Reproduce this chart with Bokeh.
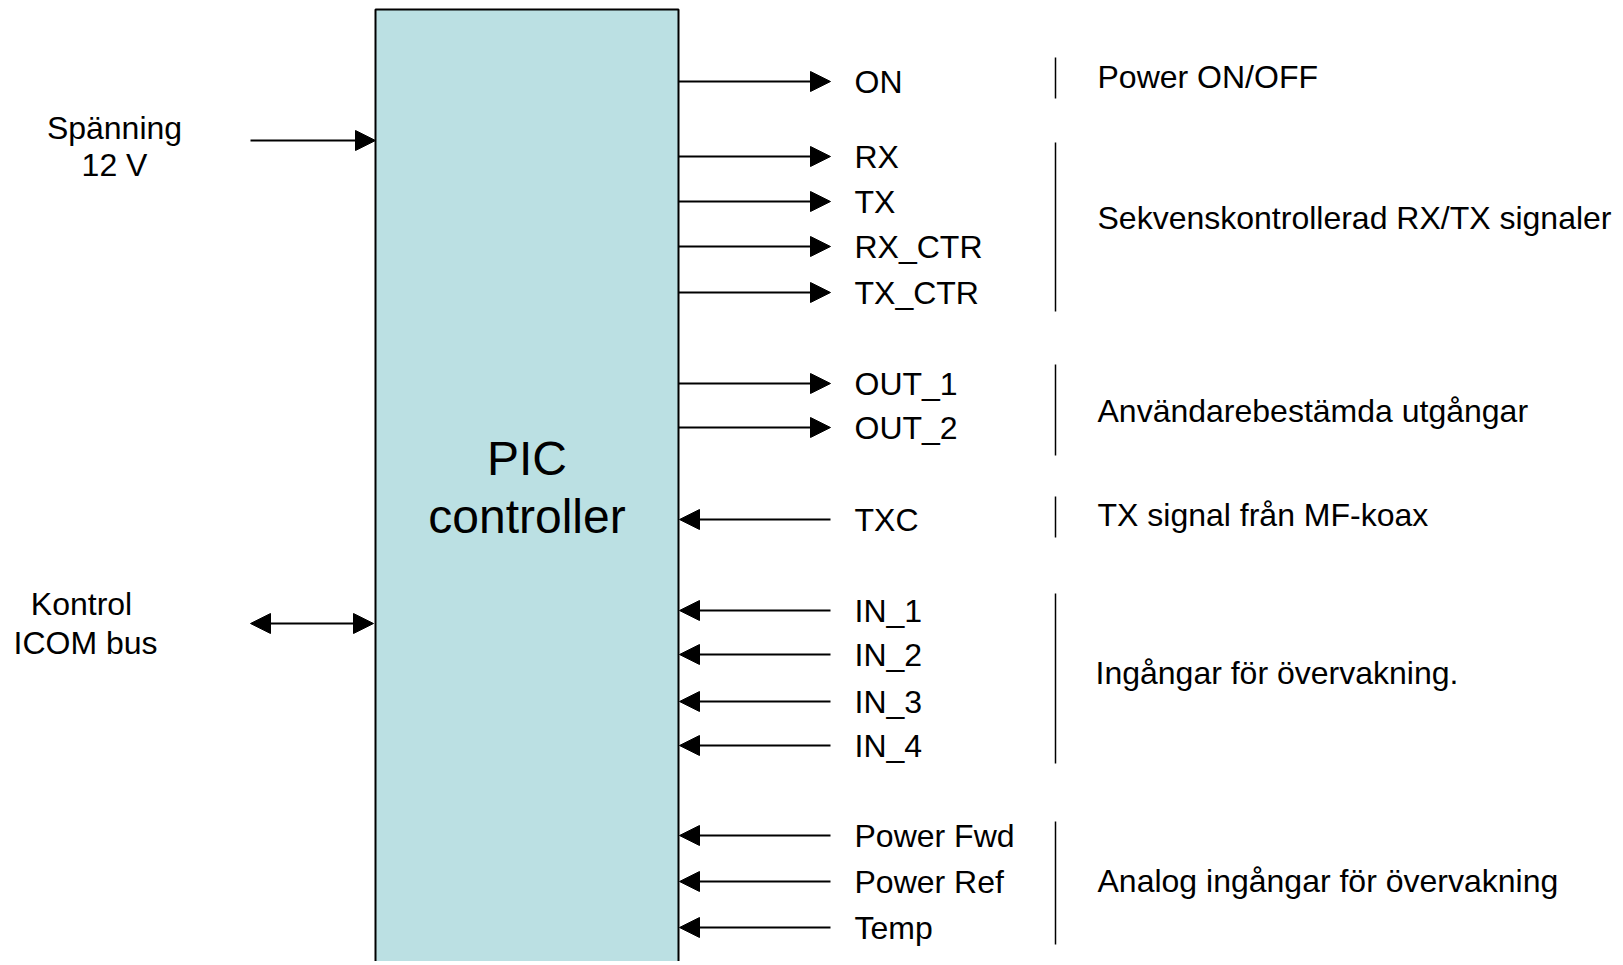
from bokeh.plotting import figure
from bokeh.models import Range1d, Arrow, NormalHead, ColumnDataSource
from bokeh.core.properties import value
from bokeh.embed import file_html
from bokeh.resources import INLINE

# ---- diagram content ----
block_lines = ["PIC", "controller"]

left_labels = [["Spänning", "12 V"], ["Kontrol", "ICOM bus"]]
left_row_y = [140, 623]
left_kind = ["in", "both"]

out_labels = ["ON", "RX", "TX", "RX_CTR", "TX_CTR", "OUT_1", "OUT_2"]
out_y = [81, 156, 201, 246, 292, 383, 427]

in_labels = ["TXC", "IN_1", "IN_2", "IN_3", "IN_4", "Power Fwd", "Power Ref", "Temp"]
in_y = [519, 610, 654, 701, 745, 835, 881, 927]

group_desc = ["Power ON/OFF", "Sekvenskontrollerad RX/TX signaler",
              "Användarebestämda utgångar", "TX signal från MF-koax",
              "Ingångar för övervakning.", "Analog ingångar för övervakning"]
group_top = [57, 142, 364, 496, 593, 821]
group_bottom = [98, 311, 455, 537, 763, 944]
group_text_y = [76, 217, 410, 514, 672, 880]

# ---- figure (data coords == picture pixels) ----
W, H = 1618, 961
p = figure(width=W, height=H, output_backend="svg", toolbar_location=None,
           x_range=Range1d(0, W), y_range=Range1d(H, 0),
           min_border=0)
p.axis.visible = False
p.grid.visible = False
p.outline_line_color = None
p.background_fill_color = "white"

FONT = value("Liberation Sans")
FS = "32px"

BOX_L, BOX_R, BOX_T, BOX_B = 375, 678, 9, 1010
p.quad(left=[BOX_L], right=[BOX_R], top=[BOX_T], bottom=[BOX_B],
       fill_color="#BBE0E3", line_color="black", line_width=2)

cx = (BOX_L + BOX_R) / 2
p.text(x=[cx, cx], y=[458, 516], text=block_lines, text_font=FONT,
       text_font_size="48px", text_align="center", text_baseline="middle",
       text_color="black")

# left side
p.text(x=[114, 114], y=[127, 164], text=left_labels[0], text_font=FONT,
       text_font_size=FS, text_align="center", text_baseline="middle", text_color="black")
p.text(x=[81, 85], y=[603, 642], text=left_labels[1], text_font=FONT,
       text_font_size=FS, text_align="center", text_baseline="middle", text_color="black")

def head():
    return NormalHead(size=20, fill_color="black", line_color="black", line_width=1)

p.add_layout(Arrow(x_start=250, y_start=left_row_y[0], x_end=BOX_L, y_end=left_row_y[0],
                   end=head(), line_width=2, line_color="black"))
p.add_layout(Arrow(x_start=250, y_start=left_row_y[1], x_end=BOX_L - 2, y_end=left_row_y[1],
                   start=head(), end=head(), line_width=2, line_color="black"))

# outputs
ARROW_FAR = 830
src_out = ColumnDataSource(dict(xs=[BOX_R] * len(out_y), xe=[ARROW_FAR] * len(out_y),
                                y=out_y))
p.add_layout(Arrow(x_start="xs", y_start="y", x_end="xe", y_end="y", source=src_out,
                   end=head(), line_width=2, line_color="black"))
src_in = ColumnDataSource(dict(xs=[ARROW_FAR] * len(in_y), xe=[BOX_R + 1] * len(in_y),
                               y=in_y))
p.add_layout(Arrow(x_start="xs", y_start="y", x_end="xe", y_end="y", source=src_in,
                   end=head(), line_width=2, line_color="black"))

LABEL_X = 854
p.text(x=[LABEL_X] * len(out_y), y=out_y, text=out_labels, text_font=FONT,
       text_font_size=FS, text_align="left", text_baseline="middle", text_color="black")
p.text(x=[LABEL_X] * len(in_y), y=in_y, text=in_labels, text_font=FONT,
       text_font_size=FS, text_align="left", text_baseline="middle", text_color="black")

# group separators and descriptions
SEP_X = 1055
p.segment(x0=[SEP_X] * len(group_top), y0=group_top, x1=[SEP_X] * len(group_top),
          y1=group_bottom, line_color="black", line_width=1.5)
desc_x = [1097, 1097, 1097, 1097, 1095, 1097]
p.text(x=desc_x, y=group_text_y, text=group_desc, text_font=FONT,
       text_font_size=FS, text_align="left", text_baseline="middle", text_color="black")

open("out.html", "w").write(file_html(p, INLINE))
